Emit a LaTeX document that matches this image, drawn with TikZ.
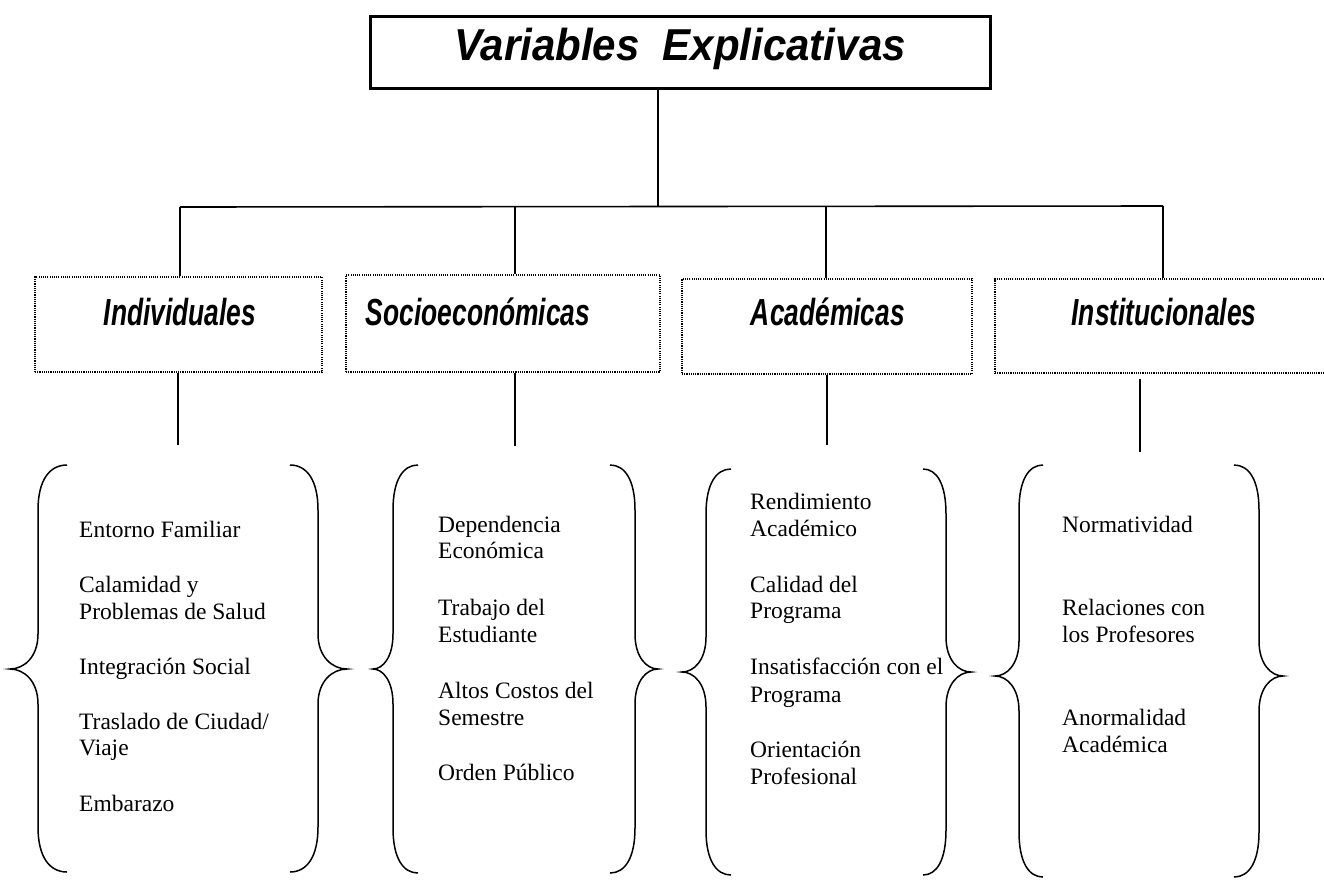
\documentclass[tikz,border=0pt]{standalone}
\usepackage{fontspec}
\setmainfont{Liberation Serif}
\newfontfamily\titlefont[FakeStretch=0.94]{Liberation Sans}
\newfontfamily\headfont[FakeStretch=0.7]{Liberation Sans}
\newcommand{\drawmybrace}[6]{% #1 end x, #2 vertical x, #3 tip x, #4 top y, #5 mid y, #6 bottom y
  \draw[bracestyle] (#1,#4) .. controls ({#2+0.4*(#1-#2)},#4) and (#2,{#4+15}) .. (#2,{#4+45})
    -- (#2,{#5-35}) .. controls (#2,{#5-12}) and ({#2+0.5*(#3-#2)},#5) .. (#3,#5)
    .. controls ({#2+0.5*(#3-#2)},#5) and (#2,{#5+12}) .. (#2,{#5+35})
    -- (#2,{#6-45}) .. controls (#2,{#6-15}) and ({#2+0.4*(#1-#2)},#6) .. (#1,#6);}
\begin{document}
\begin{tikzpicture}[x=1pt,y=-1pt,
  conn/.style={line width=1.6pt},
  bracestyle/.style={line width=1.5pt},
  catbox/.style={draw, dash pattern=on 1.1pt off 1.1pt, line width=1.1pt, inner sep=0pt},
  cat/.style={font=\headfont\bfseries\itshape\fontsize{37.7}{40}\selectfont, inner sep=0pt, anchor=base},
  item/.style={font=\fontsize{23.5}{27}\selectfont, inner sep=0pt, anchor=base west}]
\useasboundingbox (0,0) rectangle (1324,879);
% title
\node[draw, line width=3pt, minimum width=620pt, minimum height=72pt, inner sep=0pt,
  text height=32pt, text depth=16pt,
  font=\titlefont\bfseries\itshape\fontsize{44.7}{48}\selectfont] (title) at (680,52) {Variables\ \ Explicativas};
% category boxes
\node[catbox, minimum width=287pt, minimum height=95pt] (b1) at (178.5,324.5) {};
\node[catbox, minimum width=314pt, minimum height=97pt] (b2) at (503,323.5) {};
\node[catbox, minimum width=290pt, minimum height=95pt] (b3) at (827,326.5) {};
\node[catbox, minimum width=334pt, minimum height=94pt] (b4) at (1162,326) {};
\node[cat] (t1) at (180,325) {Individuales};
\node[cat] (t2) at (478,325) {Socioeconómicas};
\node[cat] (t3) at (828,325) {Académicas};
\node[cat] (t4) at (1164,325) {Institucionales};
% connectors
\coordinate (j) at (658,207);
\coordinate (hl) at (180,207);
\coordinate (hr) at (1163,206);
\coordinate (d2) at (515,207);
\coordinate (d3) at (826,207);
\draw[conn] (title.south -| j) -- (j);
\draw[conn] (hl) -- (hr);
\draw[conn] (hl) -- (hl |- b1.north);
\draw[conn] (d2) -- (d2 |- b2.north);
\draw[conn] (d3) -- (d3 |- b3.north);
\draw[conn] (hr) -- (hr |- b4.north);
\coordinate (e1) at (178,445);
\coordinate (e2) at (515,446);
\coordinate (e3) at (827,445);
\coordinate (e4) at (1140,452);
\draw[conn] (b1.south -| e1) -- (e1);
\draw[conn] (b2.south -| e2) -- (e2);
\draw[conn] (b3.south -| e3) -- (e3);
\draw[conn] ([yshift=-5pt]b4.south -| e4) -- (e4);
% braces
\drawmybrace{67}{38}{10}{465}{669}{872}
\drawmybrace{290}{318}{347}{465}{669}{872}
\drawmybrace{418}{393}{373}{465}{669}{873}
\drawmybrace{610}{635}{658}{465}{669}{873}
\drawmybrace{731}{706}{682}{469}{672}{875}
\drawmybrace{923}{946}{971}{469}{672}{875}
\drawmybrace{1043}{1019}{995}{465}{676}{877}
\drawmybrace{1234}{1259}{1283}{465}{676}{877}
% column 1
\node[item] (a1) at (79,537) {Entorno Familiar};
\node[item] (a2) at (79,592) {Calamidad y};
\node[item] (a3) at (79,619) {Problemas de Salud};
\node[item] (a4) at (79,674) {Integración Social};
\node[item] (a5) at (79,729) {Traslado de Ciudad/};
\node[item] (a6) at (79,755) {Viaje};
\node[item] (a7) at (79,811) {Embarazo};
% column 2
\node[item] (s1) at (438,532) {Dependencia};
\node[item] (s2) at (438,558) {Económica};
\node[item] (s3) at (438,615) {Trabajo del};
\node[item] (s4) at (438,642) {Estudiante};
\node[item] (s5) at (438,698) {Altos Costos del};
\node[item] (s6) at (438,725) {Semestre};
\node[item] (s7) at (438,780) {Orden Público};
% column 3
\node[item] (c1) at (750,509) {Rendimiento};
\node[item] (c2) at (750,536) {Académico};
\node[item] (c3) at (750,592) {Calidad del};
\node[item] (c4) at (750,618) {Programa};
\node[item] (c5) at (750,674) {Insatisfacción con el};
\node[item] (c6) at (750,702) {Programa};
\node[item] (c7) at (750,757) {Orientación};
\node[item] (c8) at (750,784) {Profesional};
% column 4
\node[item] (n1) at (1062,532) {Normatividad};
\node[item] (n2) at (1062,615) {Relaciones con};
\node[item] (n3) at (1062,642) {los Profesores};
\node[item] (n4) at (1062,725) {Anormalidad};
\node[item] (n5) at (1062,752) {Académica};
\end{tikzpicture}
\end{document}
